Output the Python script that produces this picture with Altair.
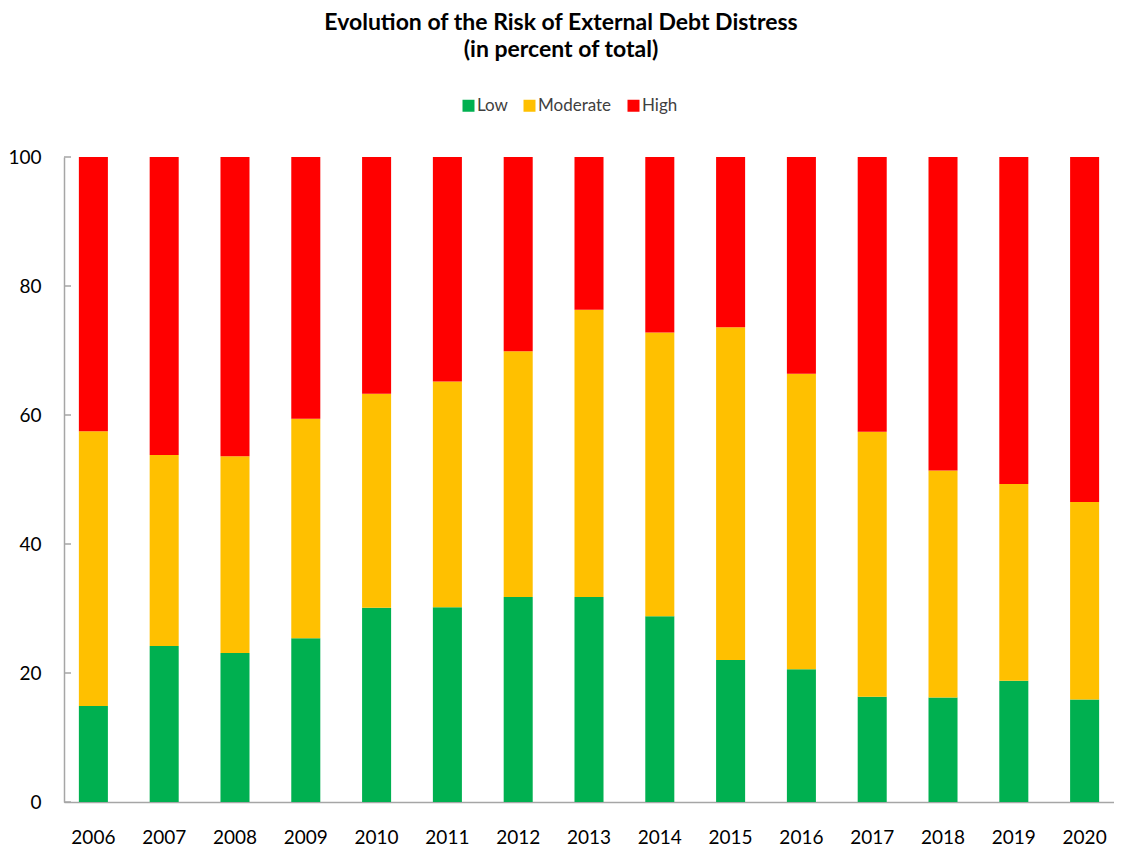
import altair as alt
import pandas as pd

years = ["2006", "2007", "2008", "2009", "2010", "2011", "2012", "2013",
         "2014", "2015", "2016", "2017", "2018", "2019", "2020"]
low = [14.9, 24.2, 23.1, 25.4, 30.1, 30.2, 31.8, 31.8, 28.8, 22.0, 20.6, 16.3, 16.2, 18.8, 15.9]
moderate = [42.6, 29.6, 30.5, 34.0, 33.2, 35.0, 38.1, 44.5, 44.0, 51.6, 45.8, 41.1, 35.2, 30.5, 30.6]
high = [42.5, 46.2, 46.4, 40.6, 36.7, 34.8, 30.1, 23.7, 27.2, 26.4, 33.6, 42.6, 48.6, 50.7, 53.5]
categories = ["Low", "Moderate", "High"]
colors = ["#00B050", "#FFC000", "#FF0000"]
y_ticks = [0, 20, 40, 60, 80, 100]

FONT = "Lato, sans-serif"

rows = []
for i, y in enumerate(years):
    for k, (cat, vals) in enumerate(zip(categories, [low, moderate, high])):
        rows.append({"year": y, "risk": cat, "value": vals[i], "ord": k})
df = pd.DataFrame(rows)
tick_df = pd.DataFrame({"v": y_ticks})

yscale = alt.Scale(domain=[0, 100], nice=False)

bars = alt.Chart(df).mark_bar().encode(
    x=alt.X("year:N", sort=years,
            scale=alt.Scale(paddingInner=0.59, paddingOuter=0.21),
            axis=alt.Axis(title=None, labelAngle=0, ticks=False, labelPadding=26,
                          labelFontSize=19, labelFont=FONT, labelColor="#000000",
                          domainColor="#A6A6A6", domainWidth=1.5)),
    y=alt.Y("value:Q", stack="zero", scale=yscale,
            axis=alt.Axis(title=None, values=y_ticks, ticks=False, grid=False,
                          labelPadding=23, labelFontSize=19, labelFont=FONT,
                          labelColor="#000000", domainColor="#A6A6A6", domainWidth=1.5)),
    color=alt.Color("risk:N", sort=categories,
                    scale=alt.Scale(domain=categories, range=colors),
                    legend=alt.Legend(title=None, orient="none", direction="horizontal",
                                      legendX=396, legendY=-60,
                                      symbolType="square", symbolSize=144,
                                      symbolStrokeWidth=0, labelFontSize=17,
                                      labelFont=FONT, labelColor="#404040",
                                      columnPadding=13, labelOffset=0)),
    order=alt.Order("ord:Q", sort="ascending"),
)

ticks = alt.Chart(tick_df).mark_rule(color="#A6A6A6", strokeWidth=1.5).encode(
    y=alt.Y("v:Q", scale=yscale),
    x=alt.value(0),
    x2=alt.value(7),
)

chart = alt.layer(bars, ticks).properties(
    width=1050,
    height=645,
    autosize=alt.AutoSizeParams(type="none"),
    padding={"left": 56, "top": 149, "right": 0, "bottom": 45},
    title=alt.TitleParams(
        text=["Evolution of the Risk of External Debt Distress", "(in percent of total)"],
        font=FONT, fontSize=23, fontWeight="bold", color="#000000",
        anchor="middle", dx=-28, offset=35, lineHeight=27,
    ),
).configure_view(stroke=None)

chart.save("out.html", embed_options={"renderer": "svg", "actions": False})
